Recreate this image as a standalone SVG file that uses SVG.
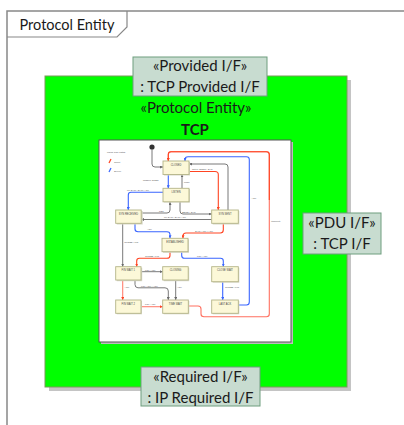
<svg xmlns="http://www.w3.org/2000/svg" width="404" height="425" viewBox="0 0 404 425">
<defs>
<style>
.t{font-family:Lato,"Liberation Sans",sans-serif;font-size:15px;fill:#1a1a1a;text-anchor:middle}
.b{font-weight:bold}
.iface{fill:#c8dcd0;stroke:#6e9e7e;stroke-width:1}
.st{fill:#fcf8d8;stroke:#b4b488;stroke-width:0.9}
.sts{fill:#d8d8c8}
.sl{font-family:"Liberation Sans",sans-serif;font-size:2.6px;fill:#444;text-anchor:middle}
.el{font-family:"Liberation Sans",sans-serif;font-size:2.4px;fill:#555}
.g{fill:none;stroke:#6a6a6a;stroke-width:0.9;marker-end:url(#ag)}
.r{fill:none;stroke:#ff4422;stroke-width:1.1;marker-end:url(#ar)}
.rs{fill:none;stroke:#ff8070;stroke-width:1.1;marker-end:url(#ar2)}
.bl{fill:none;stroke:#3a66ff;stroke-width:1.1;marker-end:url(#ab)}
</style>
<marker id="ag" markerUnits="userSpaceOnUse" markerWidth="3" markerHeight="3" refX="3" refY="1.5" orient="auto"><path d="M0,0 L3,1.5 L0,3 z" fill="#6a6a6a"/></marker>
<marker id="ar" markerUnits="userSpaceOnUse" markerWidth="3" markerHeight="3" refX="3" refY="1.5" orient="auto"><path d="M0,0 L3,1.5 L0,3 z" fill="#ff4422"/></marker>
<marker id="ar2" markerUnits="userSpaceOnUse" markerWidth="3" markerHeight="3" refX="3" refY="1.5" orient="auto"><path d="M0,0 L3,1.5 L0,3 z" fill="#ff4422"/></marker>
<marker id="ab" markerUnits="userSpaceOnUse" markerWidth="3" markerHeight="3" refX="3" refY="1.5" orient="auto"><path d="M0,0 L3,1.5 L0,3 z" fill="#3a66ff"/></marker>
</defs>
<rect width="404" height="425" fill="#fff"/>

<g id="frame">
<path d="M7,425 V11 H404" fill="none" stroke="#888" stroke-width="1.5"/>
<path d="M7,37 H117 L127,27 V11" fill="none" stroke="#888" stroke-width="1.2"/>
<text class="t" x="67" y="30" style="font-size:14.5px">Protocol Entity</text>
</g>

<g id="protocol-entity">
<rect x="49" y="80" width="302" height="311" fill="#c4c4c4"/>
<rect x="45" y="76" width="302" height="311" fill="#00ff00" stroke="#7a9a5a" stroke-width="1"/>
<text class="t" x="196" y="113">«Protocol Entity»</text>
<text class="t b" x="195" y="135">TCP</text>
</g>

<g id="tcp-state-diagram">
<rect x="101" y="142" width="192" height="202" fill="#bdbdbd"/>
<rect x="99" y="140" width="192" height="202" fill="#fff" stroke="#555" stroke-width="1"/>
<text class="el" x="107" y="153">Usual TCP Paths</text>
<path d="M109,163 L111,159" stroke="#ff4422" stroke-width="1.2"/>
<text class="el" x="114" y="162.5">Client</text>
<path d="M109,172 L111,168" stroke="#3a66ff" stroke-width="1.2"/>
<text class="el" x="114" y="171.5">Server</text>
<circle cx="152" cy="147" r="2.6" fill="#333"/>
</g>

<g id="connectors">
<path class="g" d="M152,149 V164 Q152,167 155,167 H163"/>
<path class="g" d="M182,188 V174.3"/>
<text class="el" x="184" y="182.5">close</text>
<path class="g" d="M228,210 V167 Q228,164 225,164 H189"/>
<path class="g" d="M180,202 V211 Q180,214 183,214 H211.7"/>
<text class="el" x="182" y="212.5">SEND / SYN</text>
<path class="g" d="M141,213 H167 Q170,213 170,210 V202"/>
<text class="el" x="159" y="211.7">RST</text>
<path class="g" d="M211.7,219.5 H141"/>
<text class="el" x="164" y="218.3">rcv SYN / SYN+ACK</text>
<path class="g" d="M122.7,223.3 V266.7"/>
<text class="el" x="124.3" y="243">CLOSE / FIN</text>
<path class="g" d="M141,271.7 H162.7"/>
<text class="el" x="145" y="270.5">FIN / ACK</text>
<path class="g" d="M135,280 V284.5 Q135,287.8 138,287.8 H165 Q168.3,287.8 168.3,291 V300"/>
<text class="el" x="141" y="286.8">FIN+ACK / ACK</text>
<path class="g" d="M175.7,280 V300"/>
<text class="el" x="177" y="288">ACK</text>

<path class="r" d="M188.5,171.5 H215 Q218.3,171.5 218.3,174.5 V210"/>
<text class="el" x="192" y="169.8">active OPEN / SYN</text>
<path class="r" d="M223.3,223.3 V230 Q223.3,233 220.3,233 H186 Q183,233 183,236 V238.3"/>
<text class="el" x="195" y="231.5">SYN+ACK / ACK</text>
<path class="r" d="M170,251.7 V255.5 Q170,258.3 167,258.3 H139.5 Q136.7,258.3 136.7,261 V266.7"/>
<text class="el" x="145" y="257">CLOSE / FIN</text>
<path class="rs" d="M122.7,280 V300"/>
<text class="el" x="124.5" y="288">ACK</text>
<path class="rs" d="M141,306.7 H162.7"/>
<text class="el" x="145" y="305">FIN / ACK</text>
<path class="rs" d="M188.3,306 H198 Q201,306 201,309 V314 Q201,316.7 204,316.7 H266.5 Q269.3,316.7 269.3,314 V154.5 Q269.3,151.7 266.5,151.7 H171 Q168.3,151.7 168.3,154.5 V161" style="stroke:#ff7060"/>
<path d="M269.3,200 V154.5 Q269.3,151.7 266.5,151.7 H171 Q168.3,151.7 168.3,154.5 V161" fill="none" stroke="#ff4422" stroke-width="1.1"/>
<text class="el" x="271" y="222">(timeout)</text>

<path class="bl" d="M168.3,174.3 V188.3"/>
<text class="el" x="143" y="181">passive OPEN</text>
<path class="bl" d="M163.3,192.3 H131 Q128.3,192.3 128.3,195 V210"/>
<text class="el" x="127" y="190.7">rcv SYN / SYN+ACK</text>
<path class="bl" d="M135,223.3 V229 Q135,231.7 138,231.7 H167 Q170,231.7 170,234.5 V238.3"/>
<text class="el" x="147" y="230.3">ACK</text>
<path class="bl" d="M181.7,251.7 V255.5 Q181.7,258.3 184.5,258.3 H220.5 Q223.3,258.3 223.3,261 V266.7"/>
<text class="el" x="197" y="256.7">FIN / ACK</text>
<path class="bl" d="M222.7,281.7 V300"/>
<text class="el" x="225" y="288.3">CLOSE / FIN</text>
<path class="bl" d="M238.3,305 H246.5 Q249.3,305 249.3,302 V159.5 Q249.3,156.7 246.5,156.7 H188 Q185,156.7 185,159.5 V161"/>
<text class="el" x="251.5" y="199">ACK</text>
</g>

<g id="state-closed"><rect class="sts" x="164" y="162" width="26" height="13.5"/><rect class="st" x="163" y="161" width="26" height="13.5"/><text class="sl" x="176" y="165.5">CLOSED</text></g>
<g id="state-listen"><rect class="sts" x="164" y="189" width="26" height="13.5"/><rect class="st" x="163" y="188.3" width="26" height="13.5"/><text class="sl" x="176" y="192.8">LISTEN</text></g>
<g id="state-syn-received"><rect class="sts" x="116.7" y="211" width="26" height="13.5"/><rect class="st" x="115.7" y="210" width="25.5" height="13.3"/><text class="sl" x="128.5" y="214.5">SYN RECEIVED</text></g>
<g id="state-syn-sent"><rect class="sts" x="212.7" y="211" width="26.6" height="13.5"/><rect class="st" x="211.7" y="210" width="26.6" height="13.3"/><text class="sl" x="225" y="214.5">SYN SENT</text></g>
<g id="state-established"><rect class="sts" x="163" y="239.3" width="26" height="13.5"/><rect class="st" x="162" y="238.3" width="26" height="13.4"/><text class="sl" x="175" y="242.8">ESTABLISHED</text></g>
<g id="state-fin-wait-1"><rect class="sts" x="116.7" y="267.7" width="25.5" height="13.5"/><rect class="st" x="115.7" y="266.7" width="25.3" height="13.3"/><text class="sl" x="128.3" y="271.2">FIN WAIT 1</text></g>
<g id="state-closing"><rect class="sts" x="163.7" y="267.7" width="25.5" height="13.5"/><rect class="st" x="162.7" y="266.7" width="25.5" height="13.3"/><text class="sl" x="175.5" y="271.2">CLOSING</text></g>
<g id="state-close-wait"><rect class="sts" x="212.7" y="267.7" width="26.6" height="15"/><rect class="st" x="211.7" y="266.7" width="26.6" height="15"/><text class="sl" x="225" y="271.2">CLOSE WAIT</text></g>
<g id="state-fin-wait-2"><rect class="sts" x="116.7" y="301" width="25.3" height="13.3"/><rect class="st" x="115.7" y="300" width="25.3" height="13.3"/><text class="sl" x="128.3" y="304.5">FIN WAIT 2</text></g>
<g id="state-time-wait"><rect class="sts" x="163.7" y="301" width="25.6" height="13.3"/><rect class="st" x="162.7" y="300" width="25.6" height="13.3"/><text class="sl" x="175.5" y="304.5">TIME WAIT</text></g>
<g id="state-last-ack"><rect class="sts" x="212.7" y="301" width="26.6" height="13.3"/><rect class="st" x="211.7" y="300" width="26.6" height="13.3"/><text class="sl" x="225" y="304.5">LAST ACK</text></g>

<g id="provided-if">
<rect class="iface" x="133" y="57" width="134" height="39"/>
<text class="t" x="200" y="71">«Provided I/F»</text>
<text class="t" x="200" y="92">: TCP Provided I/F</text>
</g>

<g id="pdu-if">
<rect class="iface" x="303" y="213" width="78" height="41"/>
<text class="t" x="342" y="228">«PDU I/F»</text>
<text class="t" x="342" y="249">: TCP I/F</text>
</g>

<g id="required-if">
<rect class="iface" x="141" y="367" width="119" height="39"/>
<text class="t" x="200.5" y="382">«Required I/F»</text>
<text class="t" x="200.5" y="403">: IP Required I/F</text>
</g>
</svg>
